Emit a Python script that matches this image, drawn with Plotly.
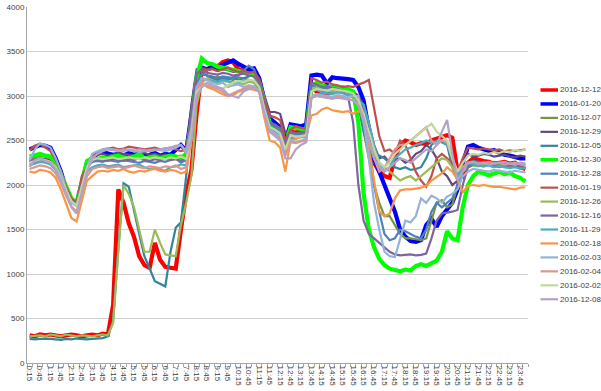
import plotly.graph_objects as go

# category labels: 0:15 ... 24:00 (every 15 min)
times = [f"{(15 * (k + 1)) // 60}:{(15 * (k + 1)) % 60:02d}" for k in range(96)]

series_names = ["2016-12-12", "2016-01-20", "2016-12-07", "2016-12-29", "2016-12-05",
                "2016-12-30", "2016-12-28", "2016-01-19", "2016-12-26", "2016-12-16",
                "2016-11-29", "2016-02-18", "2016-02-03", "2016-02-04", "2016-02-02",
                "2016-12-08"]

s_2016_12_12 = [310, 300, 320, 310, 320, 310, 300, 310, 320, 310, 300, 310,
                320, 310, 330, 320, 650, 1950, 1800, 1570, 1420, 1200, 1100, 1070,
                1350, 1160, 1080, 1070, 1060, 1500, 1900, 2170, 2800, 3300, 3300, 3320,
                3330, 3380, 3400, 3380, 3300, 3280, 3270, 3250, 3150, 2900, 2700, 2650,
                2580, 2420, 2600, 2590, 2610, 2600, 3100, 3050, 3050, 3020, 3050, 3080,
                3050, 3020, 3000, 2950, 2750, 2450, 2250, 2150, 2100, 2080, 2300, 2450,
                2500, 2480, 2450, 2470, 2460, 2500, 2520, 2540, 2560, 2530, 2150, 2100,
                2250, 2300, 2280, 2270, 2260, 2240, 2250, 2260, 2240, 2250, 2200, 2180]

s_2016_01_20 = [2400, 2420, 2450, 2440, 2420, 2300, 2150, 1950, 1820, 1790, 2000, 2250,
                2300, 2350, 2370, 2360, 2340, 2350, 2330, 2360, 2340, 2350, 2330, 2340,
                2360, 2330, 2350, 2340, 2400, 2450, 2380, 2800, 3200, 3320, 3300, 3330,
                3310, 3350, 3380, 3400, 3360, 3330, 3300, 3310, 3200, 2950, 2750, 2700,
                2650, 2500, 2680, 2670, 2660, 2680, 3230, 3240, 3230, 3140, 3210, 3200,
                3200, 3190, 3180, 3100, 2950, 2600, 2300, 2150, 2000, 1850, 1700, 1500,
                1420, 1370, 1360, 1380, 1550, 1620, 1530, 1650, 1720, 1800, 1950, 2250,
                2430, 2450, 2420, 2400, 2380, 2390, 2360, 2340, 2330, 2310, 2300, 2300]

s_2016_12_07 = [2300, 2310, 2330, 2320, 2280, 2200, 2080, 1950, 1850, 1800, 2050, 2230,
                2290, 2300, 2310, 2300, 2290, 2310, 2320, 2300, 2310, 2290, 2300, 2320,
                2310, 2300, 2290, 2310, 2320, 2330, 2300, 2600, 3100, 3250, 3230, 3200,
                3220, 3190, 3200, 3180, 3210, 3200, 3180, 3150, 3080, 2850, 2650, 2600,
                2560, 2400, 2580, 2560, 2570, 2550, 3100, 3120, 3080, 3060, 3070, 3050,
                3060, 3050, 3050, 2900, 2600, 2300, 2000, 1800, 1650, 1650, 1550, 1450,
                1400, 1400, 1390, 1380, 1400, 1600, 1800, 1830, 1750, 1780, 2000, 2200,
                2230, 2250, 2240, 2230, 2250, 2220, 2240, 2230, 2210, 2220, 2200, 2190]

s_2016_12_29 = [2260, 2280, 2300, 2290, 2270, 2200, 2080, 1950, 1830, 1790, 2020, 2250,
                2320, 2340, 2350, 2330, 2340, 2360, 2350, 2340, 2330, 2350, 2360, 2340,
                2350, 2330, 2340, 2320, 2330, 2300, 2350, 2900, 3300, 3320, 3300, 3310,
                3280, 3300, 3290, 3270, 3280, 3260, 3250, 3270, 3200, 3000, 2820, 2820,
                2800, 2580, 2600, 2580, 2590, 2600, 3150, 3120, 3100, 3080, 3090, 3070,
                3060, 3050, 3050, 3000, 2900, 2700, 2450, 2300, 2320, 2250, 2280, 2300,
                2250, 2280, 2350, 2380, 2450, 2400, 2300, 2150, 2100, 2000, 2050, 2250,
                2350, 2320, 2330, 2350, 2340, 2320, 2330, 2340, 2320, 2310, 2330, 2320]

s_2016_12_05 = [270, 265, 270, 275, 270, 265, 260, 270, 265, 275, 270, 265,
                270, 275, 280, 300, 480, 1300, 2020, 1980, 1700, 1450, 1200, 1050,
                920, 890, 860, 1250, 1520, 1580, 2100, 2700, 3150, 3250, 3230, 3200,
                3180, 3200, 3190, 3210, 3180, 3200, 3220, 3250, 3120, 2850, 2650, 2600,
                2560, 2380, 2550, 2540, 2560, 2550, 3050, 3080, 3060, 3050, 3040, 3050,
                3040, 3030, 3000, 2900, 2600, 2400, 2350, 2330, 2300, 2250, 2200, 2180,
                2200, 2170, 2180, 2200, 2300, 2450, 2500, 2480, 2450, 2200, 2050, 2150,
                2250, 2270, 2260, 2250, 2240, 2260, 2250, 2240, 2230, 2250, 2240, 2230]

s_2016_12_30 = [2320, 2340, 2350, 2330, 2320, 2250, 2120, 1980, 1850, 1800, 2050, 2270,
                2300, 2290, 2310, 2300, 2320, 2330, 2310, 2300, 2320, 2350, 2300, 2310,
                2320, 2300, 2310, 2330, 2320, 2300, 2350, 2700, 3200, 3420, 3370, 3360,
                3330, 3320, 3300, 3300, 3290, 3270, 3250, 3230, 3150, 2900, 2700, 2650,
                2620, 2450, 2650, 2640, 2630, 2620, 3100, 3150, 3120, 3100, 3110, 3090,
                3100, 3080, 3050, 2700, 1900, 1500, 1300, 1170, 1100, 1060, 1040, 1030,
                1050, 1040, 1090, 1110, 1090, 1120, 1150, 1250, 1480, 1400, 1380, 1750,
                2000, 2100, 2150, 2130, 2110, 2130, 2150, 2120, 2140, 2100, 2080, 2040]

s_2016_12_28 = [2230, 2250, 2270, 2260, 2240, 2180, 2060, 1920, 1810, 1780, 2000, 2200,
                2260, 2270, 2260, 2280, 2270, 2260, 2280, 2270, 2260, 2250, 2270, 2260,
                2250, 2270, 2260, 2280, 2300, 2250, 2280, 2750, 3150, 3250, 3230, 3220,
                3200, 3220, 3210, 3200, 3230, 3280, 3340, 3300, 3150, 2900, 2700, 2650,
                2600, 2420, 2580, 2560, 2570, 2580, 3120, 3100, 3080, 3090, 3070, 3060,
                3050, 3040, 3020, 2950, 2900, 2500, 2000, 1700, 1450, 1380, 1400, 1500,
                1480, 1450, 1420, 1400, 1500, 1700, 1800, 1750, 1800, 1850, 2000, 2150,
                2200, 2230, 2250, 2240, 2220, 2230, 2210, 2220, 2200, 2210, 2190, 2200]

s_2016_01_19 = [2390, 2440, 2460, 2420, 2380, 2280, 2150, 1980, 1850, 1800, 2100, 2200,
                2320, 2350, 2400, 2410, 2420, 2400, 2410, 2430, 2420, 2410, 2400, 2410,
                2420, 2400, 2410, 2420, 2400, 2380, 2400, 2750, 3250, 3300, 3290, 3300,
                3280, 3300, 3320, 3290, 3270, 3280, 3260, 3270, 3180, 2950, 2780, 2760,
                2730, 2500, 2620, 2660, 2640, 2630, 3200, 3180, 3150, 3160, 3130, 3120,
                3100, 3110, 3100, 3130, 3150, 3180, 2850, 2550, 2380, 2400, 2350, 2500,
                2450, 2300, 2150, 2050, 1980, 2100, 2300, 2350, 2300, 2250, 2150, 2300,
                2420, 2410, 2400, 2410, 2400, 2390, 2400, 2380, 2390, 2380, 2390, 2400]

s_2016_12_26 = [300, 305, 310, 300, 320, 310, 300, 320, 310, 300, 310, 305,
                300, 310, 320, 310, 450, 1250, 2000, 1900, 1750, 1500, 1250, 1250,
                1500, 1350, 1220, 1210, 1200, 1550, 1800, 2100, 2900, 3150, 3200, 3180,
                3150, 3170, 3160, 3140, 3150, 3130, 3160, 3150, 3100, 2850, 2650, 2620,
                2580, 2400, 2560, 2550, 2540, 2560, 3080, 3100, 3070, 3060, 3050, 3060,
                3050, 3030, 3000, 2900, 2700, 2500, 2350, 2250, 2200, 2150, 2100, 2050,
                2080, 2100, 2050, 2100, 2150, 2200, 2250, 2300, 2280, 2200, 2100, 2150,
                2200, 2220, 2210, 2230, 2220, 2200, 2210, 2220, 2200, 2210, 2190, 2200]

s_2016_12_16 = [2270, 2290, 2300, 2280, 2260, 2190, 2070, 1930, 1820, 1780, 2000, 2220,
                2280, 2290, 2280, 2270, 2290, 2280, 2270, 2290, 2280, 2300, 2280, 2270,
                2290, 2280, 2300, 2280, 2290, 2270, 2300, 2800, 3250, 3280, 3260, 3250,
                3240, 3260, 3250, 3230, 3240, 3250, 3230, 3220, 3150, 2900, 2700, 2680,
                2640, 2450, 2600, 2580, 2590, 2600, 3150, 3130, 3100, 3110, 3090, 3080,
                3050, 3000, 2700, 2000, 1600, 1450, 1400, 1350, 1300, 1250, 1220, 1210,
                1215, 1220, 1210, 1215, 1230, 1400, 1600, 1680, 1690, 1700, 1720, 2000,
                2200, 2230, 2220, 2210, 2230, 2220, 2200, 2210, 2220, 2200, 2210, 2190]

s_2016_11_29 = [2220, 2240, 2260, 2250, 2230, 2170, 2050, 1920, 1810, 1780, 1980, 2150,
                2200, 2220, 2230, 2210, 2220, 2230, 2200, 2210, 2220, 2230, 2200, 2180,
                2190, 2170, 2160, 2200, 2210, 2230, 2220, 2600, 3100, 3200, 3180, 3170,
                3160, 3180, 3170, 3150, 3160, 3170, 3180, 3160, 3100, 2850, 2650, 2600,
                2560, 2380, 2530, 2520, 2540, 2530, 3050, 3070, 3040, 3030, 3020, 3040,
                3030, 3020, 3000, 2950, 2900, 2700, 2450, 2250, 2150, 2200, 2300, 2350,
                2400, 2420, 2450, 2470, 2500, 2480, 2490, 2500, 2450, 2300, 2100, 2200,
                2250, 2230, 2220, 2210, 2220, 2200, 2210, 2200, 2190, 2200, 2180, 2190]

s_2016_02_18 = [2150, 2140, 2170, 2160, 2140, 2080, 1950, 1800, 1630, 1590, 1810, 2050,
                2100, 2150, 2160, 2150, 2170, 2160, 2180, 2150, 2140, 2160, 2150, 2170,
                2180, 2160, 2150, 2170, 2160, 2130, 2150, 2500, 3050, 3150, 3100, 3080,
                3050, 3020, 3000, 3010, 3050, 3060, 3080, 3070, 3050, 2750, 2500, 2480,
                2420, 2150, 2500, 2520, 2540, 2550, 2780, 2800, 2850, 2870, 2840, 2830,
                2820, 2830, 2800, 2830, 2800, 2400, 2050, 1700, 1650, 1680, 1850, 1940,
                1950, 1950, 1960, 1970, 1990, 2050, 2090, 2130, 2200, 2150, 2060, 1920,
                1990, 2000, 1990, 2000, 1990, 1980, 1980, 1970, 1960, 1950, 1970, 1975]

s_2016_02_03 = [2280, 2400, 2470, 2450, 2420, 2300, 2150, 1950, 1800, 1760, 1950, 2200,
                2350, 2380, 2400, 2410, 2400, 2390, 2380, 2400, 2390, 2370, 2380, 2390,
                2400, 2390, 2380, 2400, 2420, 2450, 2380, 2650, 3100, 3200, 3180, 3150,
                3130, 3150, 3100, 3120, 3130, 3100, 3120, 3110, 3050, 2800, 2620, 2580,
                2540, 2350, 2500, 2480, 2500, 2510, 3000, 3020, 3010, 3000, 2990, 3010,
                3000, 2990, 3000, 3000, 2700, 2300, 1800, 1500, 1250, 1200, 1190, 1400,
                1600, 1580, 1650, 1850, 1800, 1880, 1850, 1800, 1870, 1900, 1950, 2100,
                2150, 2180, 2170, 2160, 2150, 2170, 2160, 2150, 2140, 2160, 2150, 2140]

s_2016_02_04 = [2180, 2200, 2220, 2210, 2190, 2130, 2020, 1880, 1760, 1700, 1900, 2100,
                2180, 2200, 2210, 2190, 2200, 2210, 2190, 2200, 2220, 2200, 2190, 2210,
                2200, 2190, 2210, 2200, 2220, 2180, 2200, 2550, 3050, 3150, 3120, 3100,
                3080, 3050, 3000, 3030, 3060, 3080, 3100, 3090, 3050, 2800, 2600, 2560,
                2520, 2330, 2480, 2470, 2490, 2500, 2980, 3000, 2990, 2980, 2970, 2990,
                2980, 2970, 2950, 2900, 2750, 2500, 2300, 2150, 2200, 2300, 2400, 2450,
                2450, 2500, 2550, 2600, 2650, 2500, 2450, 2500, 2480, 2300, 2150, 2200,
                2250, 2260, 2240, 2250, 2260, 2240, 2250, 2230, 2240, 2250, 2230, 2220]

s_2016_02_02 = [2250, 2270, 2290, 2280, 2260, 2200, 2080, 1940, 1820, 1770, 1980, 2200,
                2280, 2300, 2290, 2300, 2310, 2290, 2300, 2310, 2300, 2290, 2310, 2300,
                2310, 2300, 2290, 2310, 2300, 2320, 2290, 2550, 3050, 3100, 3150, 3120,
                3100, 3080, 3120, 3150, 3170, 3160, 3180, 3170, 3100, 2850, 2650, 2620,
                2580, 2400, 2560, 2540, 2550, 2560, 3050, 3080, 3070, 3060, 3080, 3070,
                3060, 3050, 3030, 2950, 2800, 2600, 2400, 2250, 2200, 2250, 2350, 2400,
                2450, 2500, 2550, 2600, 2650, 2690, 2600, 2550, 2500, 2300, 2150, 2250,
                2330, 2350, 2340, 2360, 2350, 2370, 2360, 2380, 2370, 2390, 2380, 2400]

s_2016_12_08 = [2200, 2280, 2300, 2270, 2250, 2180, 2060, 1900, 1750, 1680, 1900, 2150,
                2300, 2350, 2380, 2400, 2390, 2380, 2400, 2390, 2380, 2400, 2390, 2380,
                2390, 2400, 2410, 2420, 2440, 2450, 2360, 2500, 3000, 3100, 3150, 3120,
                3100, 3080, 3020, 3000, 2980, 3050, 3080, 3100, 3050, 2800, 2600, 2550,
                2500, 2300, 2300, 2400, 2450, 2480, 2980, 3000, 2990, 2980, 2970, 2980,
                2970, 2960, 2950, 2900, 2750, 2500, 2300, 2200, 2150, 2200, 2250, 2300,
                2280, 2250, 2300, 2350, 2400, 2380, 2450, 2600, 2730, 2350, 2050, 2150,
                2250, 2260, 2240, 2250, 2230, 2240, 2250, 2260, 2240, 2230, 2250, 2240]

series_values = [s_2016_12_12, s_2016_01_20, s_2016_12_07, s_2016_12_29, s_2016_12_05,
                 s_2016_12_30, s_2016_12_28, s_2016_01_19, s_2016_12_26, s_2016_12_16,
                 s_2016_11_29, s_2016_02_18, s_2016_02_03, s_2016_02_04, s_2016_02_02,
                 s_2016_12_08]

colors = ["#FF0000", "#0000FF", "#77933C", "#604A7B", "#31859C", "#00FF00", "#4F81BD",
          "#C0504D", "#9BBB59", "#8064A2", "#4BACC6", "#F79646", "#95B3D7", "#D99694",
          "#C3D69B", "#B3A2C7"]
thick = {"2016-12-12", "2016-01-20", "2016-12-30"}

for v in series_values:
    assert len(v) == 96, len(v)

x_idx = list(range(len(times)))

fig = go.Figure()
for name, vals, col in zip(series_names, series_values, colors):
    fig.add_trace(go.Scatter(
        x=x_idx, y=vals, mode="lines", name=name, showlegend=False,
        line=dict(color=col, width=4.2 if name in thick else 2.2),
    ))

# Manual legend (Excel-like compact layout)
L, R, T, B = 27, 73, 7, 28
W, H = 601 - L - R, 391 - T - B
for k, (name, col) in enumerate(zip(series_names, colors)):
    py = 90 + 13.95 * k
    yp = (391 - B - py) / H
    fig.add_shape(type="line", xref="paper", yref="paper",
                  x0=(540.5 - L) / W, x1=(558 - L) / W, y0=yp, y1=yp,
                  line=dict(color=col, width=3.5 if name in thick else 2.2))
    fig.add_annotation(xref="paper", yref="paper", x=(558 - L) / W, y=yp,
                       text=name, showarrow=False, xanchor="left", yanchor="middle",
                       font=dict(family="Liberation Sans, Arial", size=8, color="#404040"))

fig.update_layout(
    width=601, height=391,
    margin=dict(l=L, r=R, t=T, b=B),
    paper_bgcolor="white", plot_bgcolor="white",
    font=dict(family="Liberation Sans, Arial", size=8, color="#404040"),
    showlegend=False,
)
fig.update_xaxes(
    range=[-0.5, 95.5], tickmode="array",
    tickvals=x_idx[::2], ticktext=times[::2], tickangle=90,
    ticks="", showgrid=False, zeroline=False,
    showline=True, linecolor="#A6A6A6", linewidth=1,
    minor=dict(tickmode="array", tickvals=[i - 0.5 for i in range(97)],
               ticks="outside", ticklen=3, tickcolor="#A6A6A6", showgrid=False),
    tickfont=dict(size=8, color="#404040"), automargin=False,
)
fig.update_yaxes(
    range=[0, 4000], dtick=500, tick0=0,
    showgrid=True, gridcolor="#CFCFCF", gridwidth=1,
    zeroline=False, showline=True, linecolor="#A6A6A6", linewidth=1,
    ticks="", tickfont=dict(size=8, color="#404040"), automargin=False,
)

fig.write_html("out.html",
               config={"displayModeBar": False},
               post_script="document.body.style.margin='0px';"
                           "document.body.style.overflow='hidden';")
